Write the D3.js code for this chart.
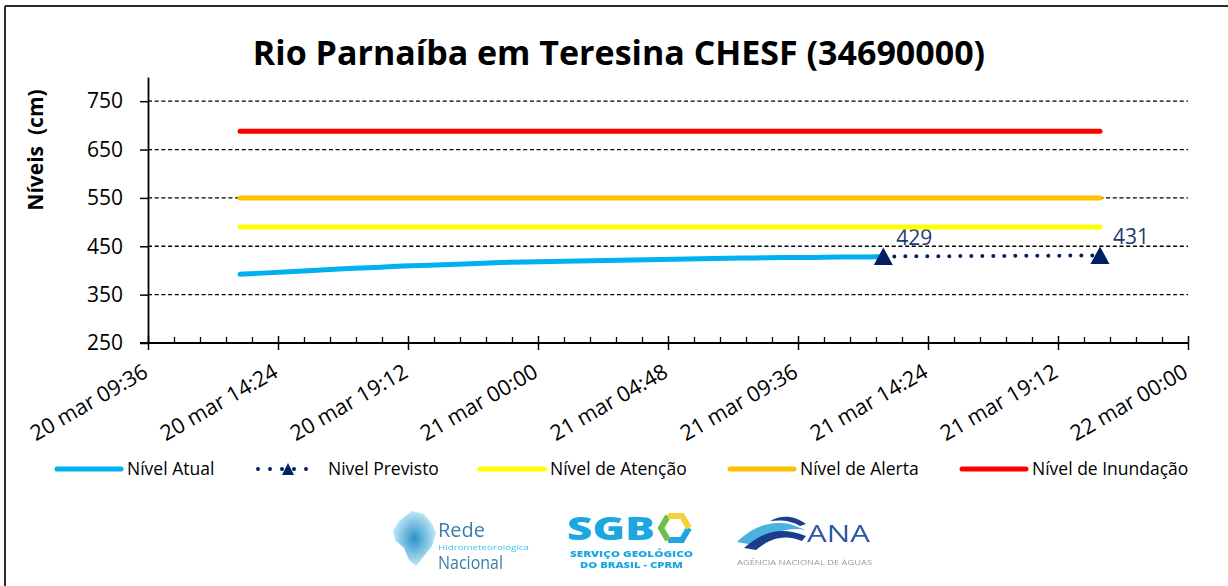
<!DOCTYPE html>
<html>
<head>
<meta charset="utf-8">
<script src="https://cdn.jsdelivr.net/npm/d3@7"></script>
<style>
  body { margin: 0; background: #fff; }
  svg text { font-family: "Open Sans", sans-serif; }
</style>
</head>
<body>
<svg id="chart" width="1228" height="586"></svg>
<script>
// observed levels (cm)
var obsTimes = ["2024-03-20 13:00", "2024-03-20 14:00", "2024-03-20 15:00", "2024-03-20 16:00",
  "2024-03-20 17:00", "2024-03-20 18:00", "2024-03-20 19:00", "2024-03-20 20:00",
  "2024-03-20 21:00", "2024-03-20 22:00", "2024-03-20 23:00", "2024-03-21 00:00",
  "2024-03-21 01:00", "2024-03-21 02:00", "2024-03-21 03:00", "2024-03-21 04:00",
  "2024-03-21 05:00", "2024-03-21 06:00", "2024-03-21 07:00", "2024-03-21 08:00",
  "2024-03-21 09:00", "2024-03-21 10:00", "2024-03-21 11:00", "2024-03-21 12:00",
  "2024-03-21 12:45"];
var obsLevels = [392, 395, 398, 401, 404, 406, 409, 411, 413, 415, 417, 418,
  419, 420, 421, 422, 423, 424, 425, 426, 427, 427, 428, 428, 429];

// forecast
var fcstTimes = ["2024-03-21 12:45", "2024-03-21 20:45"];
var fcstLevels = [429, 431];

// reference levels
var thresholdNames = ["Nível de Atenção", "Nível de Alerta", "Nível de Inundação"];
var thresholdLevels = [490, 550, 688];
var thresholdSpan = ["2024-03-20 13:00", "2024-03-21 20:45"];

var xStart = "2024-03-20 09:36";
var xTickLabels = ["20 mar 09:36", "20 mar 14:24", "20 mar 19:12", "21 mar 00:00", "21 mar 04:48",
  "21 mar 09:36", "21 mar 14:24", "21 mar 19:12", "22 mar 00:00"];
var yTicks = [250, 350, 450, 550, 650, 750];
var legendNames = ["Nível Atual", "Nivel Previsto", "Nível de Atenção", "Nível de Alerta", "Nível de Inundação"];

var colors = ["#00B0F0", "#002060", "#FFFF00", "#FFC000", "#FF0000"];

var parse = d3.timeParse("%Y-%m-%d %H:%M");
var svg = d3.select("#chart");

// frame
svg.append("line").attr("x1", 5).attr("y1", 6).attr("x2", 1228).attr("y2", 6)
  .attr("stroke", "#2b2b2b").attr("stroke-width", 2);
svg.append("line").attr("x1", 5).attr("y1", 6).attr("x2", 5).attr("y2", 586)
  .attr("stroke", "#2b2b2b").attr("stroke-width", 2);

// scales
var t0 = parse(xStart);
var step = 288 * 60000; // 4.8 hours
var majorTicks = d3.range(9).map(function(i) { return new Date(+t0 + i * step); });
var minorTicks = d3.range(41).map(function(i) { return new Date(+t0 + i * step / 5); })
  .filter(function(d, i) { return i % 5 !== 0; });

var x = d3.scaleTime().domain([majorTicks[0], majorTicks[8]]).range([148, 1188]);
var y = d3.scaleLinear().domain([250, 800]).range([343, 77]);

// title
svg.append("text").attr("x", 619).attr("y", 65).attr("text-anchor", "middle")
  .attr("font-size", 34).attr("font-weight", "bold").attr("fill", "#000")
  .text("Rio Parnaíba em Teresina CHESF (34690000)");

svg.append("text").attr("transform", "translate(43,150) rotate(-90)")
  .attr("text-anchor", "middle").attr("font-size", 21).attr("font-weight", "bold")
  .attr("xml:space", "preserve")
  .text("Níveis  (cm)");

// gridlines
svg.append("g").selectAll("line").data(yTicks.slice(1)).join("line")
  .attr("x1", x.range()[0]).attr("x2", x.range()[1])
  .attr("y1", function(d) { return y(d); }).attr("y2", function(d) { return y(d); })
  .attr("stroke", "#000").attr("stroke-width", 1.3).attr("stroke-dasharray", "4,2.7");

// y axis
var gy = svg.append("g").attr("transform", "translate(148,0)")
  .call(d3.axisLeft(y).tickValues(yTicks).tickSize(8).tickSizeOuter(0).tickPadding(17));
gy.select(".domain").attr("stroke-width", 1.8);
gy.selectAll(".tick line").attr("stroke-width", 1.5);
gy.selectAll(".tick text").attr("font-size", 21).attr("fill", "#000")
  .attr("font-family", "Open Sans");

// x axis: major ticks cross the line, minor ticks inside
var gx = svg.append("g").attr("transform", "translate(0," + y(250) + ")")
  .call(d3.axisBottom(x).tickValues(majorTicks).tickSize(7)
    .tickFormat(function(d, i) { return xTickLabels[i]; }));
gx.select(".domain").remove();
gx.selectAll(".tick line").attr("y1", -7).attr("stroke-width", 1.5);
gx.selectAll(".tick text").attr("font-size", 21.5).attr("fill", "#000")
  .attr("font-family", "Open Sans")
  .attr("text-anchor", "end").attr("x", 0).attr("y", 0).attr("dy", 0)
  .attr("transform", "translate(1,33) rotate(-30)");
var gm = svg.append("g").attr("transform", "translate(0," + y(250) + ")")
  .call(d3.axisTop(x).tickValues(minorTicks).tickSize(6).tickFormat(""));
gm.select(".domain").remove();
gm.selectAll(".tick line").attr("stroke-width", 1.3);
svg.append("line").attr("x1", 140).attr("x2", 1188).attr("y1", y(250)).attr("y2", y(250))
  .attr("stroke", "#000").attr("stroke-width", 1.8);

// series
var line = d3.line().x(function(d) { return x(d[0]); }).y(function(d) { return y(d[1]); })
  .curve(d3.curveMonotoneX);

var obs = obsTimes.map(function(t, i) { return [parse(t), obsLevels[i]]; });
var fc = fcstTimes.map(function(t, i) { return [parse(t), fcstLevels[i]]; });

svg.append("path").datum(obs).attr("d", line).attr("fill", "none")
  .attr("stroke", colors[0]).attr("stroke-width", 5).attr("stroke-linecap", "round");

svg.append("path").datum(fc).attr("d", d3.line().x(function(d) { return x(d[0]); }).y(function(d) { return y(d[1]); }))
  .attr("fill", "none").attr("stroke", colors[1]).attr("stroke-width", 4)
  .attr("stroke-dasharray", "0,11").attr("stroke-linecap", "round");

var tri = "M0,-9L9.5,8.5L-9.5,8.5Z";
svg.append("g").selectAll("path").data(fc).join("path")
  .attr("d", tri).attr("fill", colors[1])
  .attr("transform", function(d) { return "translate(" + x(d[0]) + "," + y(d[1]) + ")"; });

svg.append("g").selectAll("text").data(fc).join("text")
  .attr("x", function(d) { return x(d[0]) + 13; })
  .attr("y", function(d) { return y(d[1]) - 11; })
  .attr("font-size", 21).attr("fill", "#1f3a6e")
  .text(function(d) { return d[1]; });

thresholdLevels.forEach(function(v, i) {
  var pts = thresholdSpan.map(function(t) { return [parse(t), v]; });
  svg.append("path").datum(pts)
    .attr("d", d3.line().x(function(d) { return x(d[0]); }).y(function(d) { return y(d[1]); }))
    .attr("stroke", colors[i + 2]).attr("stroke-width", 5).attr("stroke-linecap", "round");
});

// legend
var legendX = [55, 255, 478, 728, 960];
var lg = svg.append("g").attr("transform", "translate(0,469)");
legendNames.forEach(function(name, i) {
  var x0 = legendX[i];
  if (i === 1) {
    lg.append("line").attr("x1", x0 + 3).attr("x2", x0 + 60).attr("y1", 0).attr("y2", 0)
      .attr("stroke", colors[1]).attr("stroke-width", 4).attr("stroke-dasharray", "0,12")
      .attr("stroke-linecap", "round");
    lg.append("path").attr("d", "M0,-6L6,6L-6,6Z").attr("fill", colors[1])
      .attr("transform", "translate(" + (x0 + 33) + ",0)");
    lg.append("text").attr("x", x0 + 73).attr("y", 6).attr("font-size", 17.5).text(name);
  } else {
    lg.append("line").attr("x1", x0 + 2).attr("x2", x0 + 66).attr("y1", 0).attr("y2", 0)
      .attr("stroke", colors[i]).attr("stroke-width", 5).attr("stroke-linecap", "round");
    lg.append("text").attr("x", x0 + 72).attr("y", 6).attr("font-size", 17.5).text(name);
  }
});

// logos (rough)
var defs = svg.append("defs");
defs.append("filter").attr("id", "soft").append("feGaussianBlur").attr("stdDeviation", 0.6);
var rg = defs.append("radialGradient").attr("id", "br");
rg.append("stop").attr("offset", "0%").attr("stop-color", "#2b93c8");
rg.append("stop").attr("offset", "100%").attr("stop-color", "#bfe7f6");

var logos = svg.append("g").attr("filter", "url(#soft)");
logos.append("path")
  .attr("d", "M400,520L412,511L424,514L432,524L436,533L432,546L424,556L416,566L409,560L404,548L395,540L393,530Z")
  .attr("fill", "url(#br)");
logos.append("text").attr("x", 438).attr("y", 537).attr("font-family", "Roboto")
  .attr("font-size", 20).attr("fill", "#3b7fa6").attr("textLength", 47)
  .attr("lengthAdjust", "spacingAndGlyphs").text("Rede");
logos.append("text").attr("x", 438).attr("y", 550).attr("font-family", "Roboto")
  .attr("font-size", 7).attr("fill", "#46c0e6").attr("textLength", 91)
  .attr("lengthAdjust", "spacingAndGlyphs").text("Hidrometeorológica");
logos.append("text").attr("x", 438).attr("y", 569).attr("font-family", "Roboto")
  .attr("font-size", 18).attr("fill", "#3b7fa6").attr("textLength", 65)
  .attr("lengthAdjust", "spacingAndGlyphs").text("Nacional");

logos.append("text").attr("x", 567).attr("y", 540).attr("font-family", "Roboto")
  .attr("font-weight", 900).attr("font-size", 32).attr("fill", "#1ea7e1")
  .attr("textLength", 88).attr("lengthAdjust", "spacingAndGlyphs").text("SGB");
var hex = d3.range(7).map(function(i) {
  var a = Math.PI / 3 * i;
  return [675 + 14 * Math.cos(a), 528 + 14 * Math.sin(a)];
});
logos.append("path").attr("d", d3.line()(hex.slice(0, 3))).attr("fill", "none")
  .attr("stroke", "#1ea7e1").attr("stroke-width", 6);
logos.append("path").attr("d", d3.line()(hex.slice(2, 5))).attr("fill", "none")
  .attr("stroke", "#6cc04a").attr("stroke-width", 6);
logos.append("path").attr("d", d3.line()(hex.slice(4, 7))).attr("fill", "none")
  .attr("stroke", "#f3d23a").attr("stroke-width", 6);
logos.append("text").attr("x", 570).attr("y", 557).attr("font-family", "Roboto")
  .attr("font-weight", 900).attr("font-size", 8).attr("fill", "#1ea7e1")
  .attr("textLength", 123).attr("lengthAdjust", "spacingAndGlyphs").text("SERVIÇO GEOLÓGICO");
logos.append("text").attr("x", 580).attr("y", 568).attr("font-family", "Roboto")
  .attr("font-weight", 900).attr("font-size", 8).attr("fill", "#1ea7e1")
  .attr("textLength", 103).attr("lengthAdjust", "spacingAndGlyphs").text("DO BRASIL - CPRM");

logos.append("path").attr("d", "M737,542C752,528 768,520 790,524L806,530C790,527 774,530 760,546Z")
  .attr("fill", "#4cb1e0");
logos.append("path").attr("d", "M744,548C762,532 780,526 806,536L802,541C782,533 768,540 756,550Z")
  .attr("fill", "#1d3c8c");
logos.append("path").attr("d", "M770,521C782,514 796,516 806,524L800,526C790,520 780,520 770,521Z")
  .attr("fill", "#1d3c8c");
logos.append("text").attr("x", 807).attr("y", 542).attr("font-family", "Roboto")
  .attr("font-size", 24).attr("fill", "#2f58a6").attr("textLength", 63)
  .attr("lengthAdjust", "spacingAndGlyphs").text("ANA");
logos.append("text").attr("x", 737).attr("y", 565).attr("font-family", "Roboto")
  .attr("font-size", 6.5).attr("fill", "#9a9a9a").attr("textLength", 135)
  .attr("lengthAdjust", "spacingAndGlyphs").text("AGÊNCIA NACIONAL DE ÁGUAS");
</script>
</body>
</html>
